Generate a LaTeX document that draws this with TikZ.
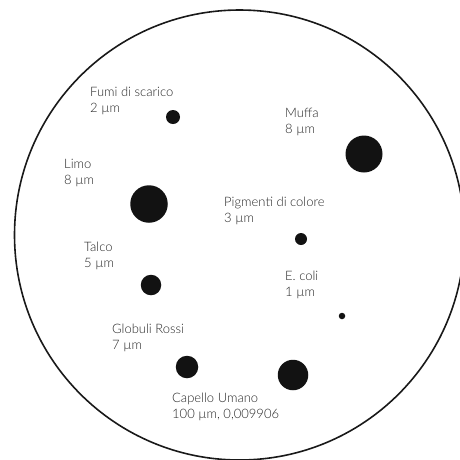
\documentclass[tikz,border=0pt]{standalone}
\usepackage{fontspec}
\setmainfont{Lato}[UprightFont={* Light}]
\begin{document}
\begin{tikzpicture}[x=1pt,y=-1pt,
  dot/.style={circle,fill=black!93,inner sep=0pt,minimum size=#1},
  lbl/.style={anchor=base west,inner sep=0pt,font=\fontsize{13}{15}\selectfont,text=black!85}]
\useasboundingbox (0,0) rectangle (460,459);
\begin{scope}
\clip (0,0) rectangle (460,459);
\node[circle,draw=black!90,line width=1.6pt,minimum size=450pt,inner sep=0pt] (dish) at (239.5,235) {};
\end{scope}
% dots
\node[dot=14pt] (fumi) at (173,117) {};
\node[dot=37pt] (muffa) at (364,154) {};
\node[dot=37.5pt] (limo) at (149,204) {};
\node[dot=12pt] (pigm) at (301,239) {};
\node[dot=20.5pt] (talco) at (151,285) {};
\node[dot=6.5pt] (ecoli) at (342,316) {};
\node[dot=22.5pt] (globuli) at (187,367) {};
\node[dot=30.5pt] (capello) at (293,375) {};
% labels
\node[lbl] (fumiA) at (90,96) {Fumi di scarico};
\node[lbl] (fumiB) at (90,112) {2 µm};
\node[lbl] (muffaA) at (285,117) {Muffa};
\node[lbl] (muffaB) at (285,133) {8 µm};
\node[lbl] (limoA) at (64,168) {Limo};
\node[lbl] (limoB) at (64,184) {8 µm};
\node[lbl] (pigmA) at (224,206) {Pigmenti di colore};
\node[lbl] (pigmB) at (224,222) {3 µm};
\node[lbl] (talcoA) at (84,251) {Talco};
\node[lbl] (talcoB) at (84,267) {5 µm};
\node[lbl] (ecoliA) at (285,280) {E. coli};
\node[lbl] (ecoliB) at (285,296) {1 µm};
\node[lbl] (globA) at (112,333) {Globuli Rossi};
\node[lbl] (globB) at (112,349) {7 µm};
\node[lbl] (capA) at (172,402) {Capello Umano};
\node[lbl] (capB) at (172,418) {100 µm, 0,009906};
\end{tikzpicture}
\end{document}
